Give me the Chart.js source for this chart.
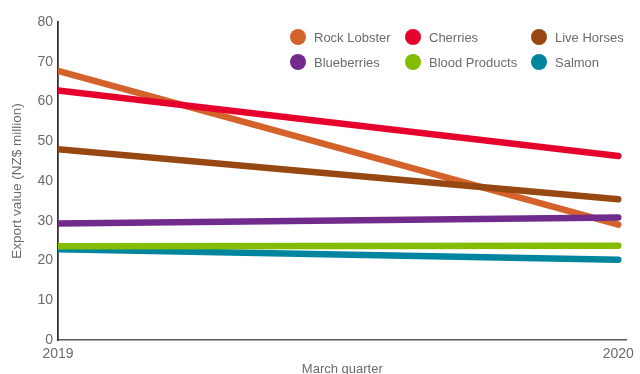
<!DOCTYPE html>
<html>
<head>
<meta charset="utf-8">
<script src="https://cdn.jsdelivr.net/npm/chart.js@4"></script>
<style>
  html, body { margin: 0; padding: 0; background: #fff; }
  #wrap { width: 640px; height: 374px; position: relative; }
</style>
</head>
<body>
<div id="wrap"><canvas id="exports"></canvas></div>
<script>
/* ---------- Veri ---------- */
const years = [2019, 2020];
const seriesNames = ['Rock Lobster', 'Cherries', 'Live Horses', 'Blueberries', 'Blood Products', 'Salmon'];
const rockLobster = [67.7, 29.0];
const cherries = [62.8, 46.3];
const liveHorses = [48.0, 35.4];
const blueberries = [29.3, 30.8];
const bloodProducts = [23.6, 23.7];
const salmon = [22.8, 20.2];
const yTicks = [0, 10, 20, 30, 40, 50, 60, 70, 80];

const seriesValues = [rockLobster, cherries, liveHorses, blueberries, bloodProducts, salmon];
const seriesColors = ['#d4632b', '#e6002c', '#974812', '#702b8d', '#84bd00', '#00859f'];

const FONT = '"Liberation Sans", Arial, sans-serif';
const GREY = '#6b6b6b';

/* ---------- Lejant (3 sütun, 2 satır) ---------- */
const gridLegend = {
    id: 'gridLegend',
    afterDraw(chart) {
        const ctx = chart.ctx;
        const cols = [298, 413, 539];
        const rows = [37, 62];
        ctx.save();
        ctx.font = '13px ' + FONT;
        ctx.textBaseline = 'middle';
        chart.data.datasets.forEach((ds, i) => {
            const cx = cols[i % 3];
            const cy = rows[Math.floor(i / 3)];
            ctx.fillStyle = ds.borderColor;
            ctx.beginPath();
            ctx.arc(cx, cy, 8, 0, Math.PI * 2);
            ctx.fill();
            ctx.fillStyle = GREY;
            ctx.fillText(ds.label, cx + 16, cy + 1);
        });
        ctx.restore();
    }
};

/* ---------- Grafik ---------- */
new Chart(document.getElementById('exports'), {
    type: 'line',
    data: {
        datasets: seriesNames.map((name, i) => ({
            label: name,
            data: years.map((yr, j) => ({ x: yr, y: seriesValues[i][j] })),
            borderColor: seriesColors[i],
            backgroundColor: seriesColors[i],
            borderWidth: 6.5,
            borderCapStyle: 'round',
            pointRadius: 0,
            tension: 0,
            order: i === 0 ? 1 : 0
        }))
    },
    options: {
        responsive: true,
        maintainAspectRatio: false,
        animation: false,
        layout: { padding: { top: 22, right: 11, left: 0, bottom: 0 } },
        plugins: { legend: { display: false }, tooltip: { enabled: false } },
        scales: {
            x: {
                type: 'linear',
                min: 2019,
                max: 2020.015,
                afterBuildTicks: (s) => { s.ticks = years.map(v => ({ value: v })); },
                afterFit: (s) => { s.height = 34; },
                grid: { display: false, drawTicks: false },
                border: { color: '#555', width: 1.5 },
                ticks: {
                    color: GREY, font: { family: FONT, size: 14 }, padding: 6,
                    maxRotation: 0, autoSkip: false,
                    callback: (v) => String(v)
                },
                title: {
                    display: true, text: 'March quarter', color: GREY,
                    font: { family: FONT, size: 13 }, padding: { top: 0, bottom: -3 }
                }
            },
            y: {
                min: 0,
                max: 80,
                afterBuildTicks: (s) => { s.ticks = yTicks.map(v => ({ value: v })); },
                afterFit: (s) => { s.width = 58; },
                grid: { display: false, drawTicks: false },
                border: { color: '#333', width: 1.8 },
                ticks: { color: GREY, font: { family: FONT, size: 14 }, padding: 5 },
                title: {
                    display: true, text: 'Export value (NZ$ million)', color: GREY,
                    font: { family: FONT, size: 13.5 }, padding: { top: 9, bottom: 0 }
                }
            }
        }
    },
    plugins: [gridLegend]
});
</script>
</body>
</html>
